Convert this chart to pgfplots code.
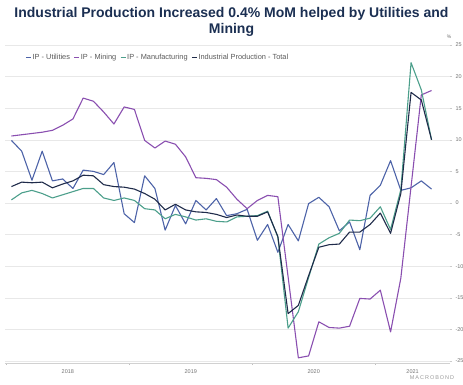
\documentclass[border=0pt]{standalone}
\usepackage{fontspec}
\setmainfont{Liberation Sans}
\usepackage{pgfplots}
\usepackage{pgfplotstable}
\pgfplotsset{compat=1.18}
\definecolor{cUtil}{HTML}{4D63A8}
\definecolor{cMin}{HTML}{8A4FB0}
\definecolor{cMan}{HTML}{4C9F8B}
\definecolor{cTot}{HTML}{1F2B4A}
\definecolor{cTitle}{HTML}{1B2F52}

\pgfplotstableread{
i util mining manuf total
0 9.9 10.6 0.5 2.6
1 8.2 10.8 1.6 3.3
2 3.6 11.0 2.0 3.2
3 8.2 11.2 1.5 3.3
4 3.5 11.5 0.8 2.4
5 3.8 12.3 1.3 3.0
6 2.3 13.3 1.8 3.5
7 5.2 16.6 2.3 4.4
8 5.0 16.1 2.3 4.3
9 4.5 14.4 0.8 2.9
10 6.4 12.5 0.4 2.6
11 -1.7 15.2 0.8 2.5
12 -3.1 14.8 0.4 2.2
13 4.3 9.9 -0.9 1.5
14 2.3 8.7 -1.1 0.6
15 -4.3 9.8 -2.5 -1.1
16 -0.4 9.3 -1.8 -0.2
17 -3.3 7.3 -2.2 -1.1
18 0.4 4.0 -2.7 -1.4
19 -1.1 3.9 -2.5 -1.5
20 0.7 3.7 -2.9 -1.8
21 -2.0 2.5 -3.0 -2.3
22 -1.7 0.6 -2.2 -1.9
23 -1.0 -0.9 -2.1 -2.1
24 -5.9 0.4 -2.0 -2.1
25 -3.4 1.2 -1.3 -1.4
26 -7.8 1.0 -5.4 -5.3
27 -3.4 -11.7 -19.8 -17.5
28 -6.0 -24.5 -17.2 -16.2
29 -0.1 -24.2 -11.8 -11.5
30 0.9 -18.8 -6.5 -7.0
31 -0.6 -19.7 -5.5 -6.6
32 -4.4 -19.8 -4.8 -6.5
33 -3.0 -19.5 -2.7 -4.6
34 -7.4 -15.1 -2.8 -4.6
35 1.2 -15.2 -2.4 -3.4
36 2.8 -13.8 -0.6 -1.6
37 6.7 -20.4 -4.2 -4.8
38 2.0 -11.9 2.1 1.5
39 2.4 2.6 22.2 17.5
40 3.5 17.1 17.9 16.3
41 2.2 17.8 10.0 10.0
}\data

\begin{document}
\begin{tikzpicture}
\begin{axis}[
  at={(5pt,21pt)}, anchor=south west,
  scale only axis, width=445pt, height=318pt,
  xmin=-0.63, xmax=42.8, ymin=-25.32, ymax=25,
  axis x line*=bottom, axis y line*=right,
  x axis line style={draw=black!18, -},
  y axis line style={draw=none},
  tick align=outside,
  ytick={-25,-20,...,25},
  ymajorgrids, grid style={draw=black!9, line width=0.5pt},
  xtick={5.5,17.5,29.5,39.15},
  xticklabels={2018,2019,2020,2021},
  minor xtick={-0.5,11.5,23.5,35.5},
  major tick length=2pt, minor tick length=2pt,
  x tick style={draw=black!25},
  major x tick style={draw=none},
  y tick style={draw=black!20},
  /pgf/number format/assume math mode=true,
  tick label style={font=\fontsize{5.5}{6}\selectfont, text=black!55},
  xticklabel style={yshift=-1pt},
  legend columns=4,
  legend style={at={(axis description cs:0.045,0.9607)}, anchor=west,
    draw=none, fill=none, font=\fontsize{7.4}{8}\selectfont, text=black!65,
    inner sep=0pt, nodes={inner sep=1pt},
    /tikz/every even column/.append style={column sep=2.5pt}},
  legend image code/.code={\draw[#1, line width=1.4pt] (0pt,0pt) -- (5pt,0pt);},
  every axis plot/.append style={line width=1.1pt, line join=round},
]
\addplot[cUtil] table[x=i, y=util] {\data};
\addlegendentry{IP - Utilities}
\addplot[cMin] table[x=i, y=mining] {\data};
\addlegendentry{IP - Mining}
\addplot[cMan] table[x=i, y=manuf] {\data};
\addlegendentry{IP - Manufacturing}
\addplot[cTot] table[x=i, y=total] {\data};
\addlegendentry{Industrial Production - Total}
\end{axis}
\node[anchor=base, font=\fontsize{14}{16}\selectfont\bfseries, text=cTitle] at (231.5pt,366.7pt) {Industrial Production Increased 0.4\% MoM helped by Utilities and};
\node[anchor=base, font=\fontsize{14}{16}\selectfont\bfseries, text=cTitle] at (231.5pt,350.5pt) {Mining};
\node[font=\fontsize{5}{6}\selectfont, text=black!55] at (449pt,347pt) {\%};
\node[font=\fontsize{5.5}{6}\selectfont\addfontfeature{LetterSpace=18}, text=black!40] at (432pt,6pt) {MACROBOND};
\pgfresetboundingbox
\path (0,0) rectangle (463pt,384pt);
\end{tikzpicture}
\end{document}
